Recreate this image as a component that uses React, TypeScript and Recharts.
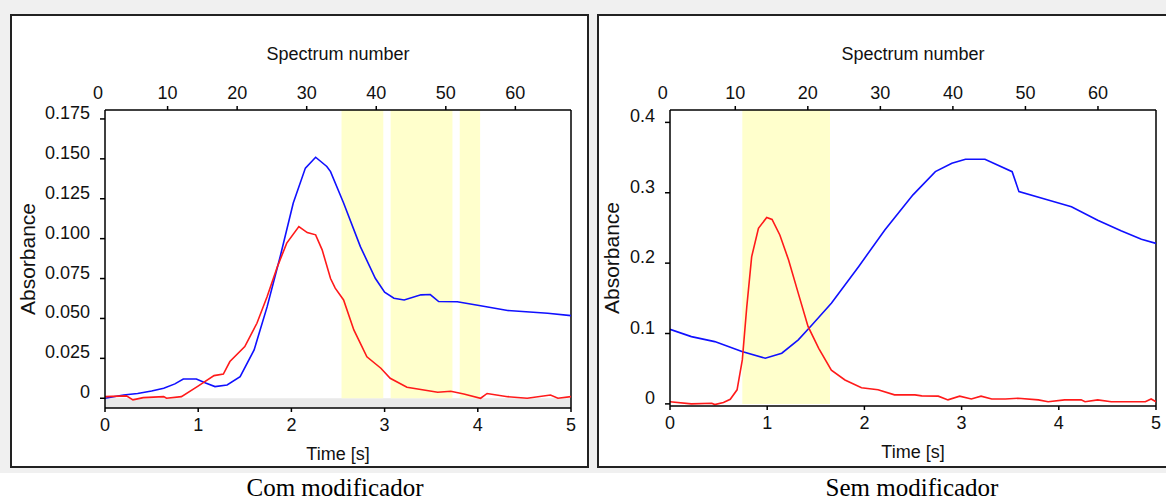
import { LineChart, Line, XAxis, YAxis, ReferenceArea, ReferenceLine } from "recharts";

type Pt = [number, number];

const timeTicks = [0, 1, 2, 3, 4, 5];
const spectrumTicks = [0, 10, 20, 30, 40, 50, 60];
const spectrumRange: Pt = [1, 68];
const comAbsTicks = [0, 0.025, 0.05, 0.075, 0.1, 0.125, 0.15, 0.175];
const semAbsTicks = [0, 0.1, 0.2, 0.3, 0.4];

// selected spectra (yellow), in seconds
const comBands: Pt[] = [[2.538, 2.986], [3.065, 3.728], [3.806, 4.025]];
const semBands: Pt[] = [[0.744, 1.646]];

// "Com modificador" — [time s, absorbance]
const comBlue: Pt[] = [
  [0, 0.0], [0.2, 0.002], [0.35, 0.003], [0.5, 0.0045], [0.63, 0.0063], [0.75, 0.009],
  [0.84, 0.0121], [0.98, 0.0121], [1.08, 0.0095], [1.18, 0.0073], [1.31, 0.0083],
  [1.45, 0.0135], [1.6, 0.0303], [1.74, 0.0574], [1.88, 0.0888], [2.02, 0.1223],
  [2.15, 0.1442], [2.26, 0.151], [2.38, 0.1452], [2.42, 0.142], [2.56, 0.1223],
  [2.74, 0.095], [2.9, 0.0752], [3.0, 0.0665], [3.1, 0.0627], [3.21, 0.0616],
  [3.39, 0.0648], [3.49, 0.065], [3.58, 0.0606], [3.78, 0.0605], [4.03, 0.058],
  [4.32, 0.055], [4.75, 0.0533], [5, 0.0518],
];
const comRed: Pt[] = [
  [0, 0.001], [0.23, 0.0015], [0.3, -0.001], [0.41, 0.0004], [0.63, 0.001], [0.66, 0.0],
  [0.82, 0.001], [0.99, 0.0073], [1.17, 0.0142], [1.27, 0.0152], [1.34, 0.023],
  [1.5, 0.0324], [1.63, 0.047], [1.74, 0.0637], [1.85, 0.0825], [1.95, 0.0972],
  [2.08, 0.1076], [2.17, 0.1038], [2.26, 0.1024], [2.33, 0.093], [2.42, 0.075],
  [2.47, 0.069], [2.56, 0.0616], [2.67, 0.0428], [2.81, 0.026], [2.96, 0.0188],
  [3.06, 0.0125], [3.24, 0.0069], [3.57, 0.0038], [3.71, 0.0044], [3.85, 0.0027],
  [4.03, 0.0], [4.1, 0.003], [4.32, 0.001], [4.53, 0.0], [4.78, 0.002], [4.86, 0.0],
  [5, 0.001],
];

// "Sem modificador"
const semBlue: Pt[] = [
  [0, 0.106], [0.22, 0.0956], [0.46, 0.0885], [0.74, 0.0743], [0.98, 0.0649],
  [1.15, 0.072], [1.32, 0.091], [1.46, 0.112], [1.66, 0.143], [1.94, 0.195],
  [2.21, 0.247], [2.5, 0.297], [2.73, 0.33], [2.9, 0.342], [3.04, 0.3476],
  [3.24, 0.3476], [3.52, 0.33], [3.59, 0.3016], [3.89, 0.2898], [4.13, 0.28],
  [4.4, 0.261], [4.64, 0.246], [4.85, 0.234], [5, 0.228],
];
const semRed: Pt[] = [
  [0, 0.003], [0.22, 0.0], [0.43, 0.001], [0.46, -0.001], [0.55, 0.002], [0.62, 0.0066],
  [0.69, 0.02], [0.744, 0.0625], [0.79, 0.138], [0.84, 0.209], [0.91, 0.2495],
  [0.995, 0.265], [1.05, 0.262], [1.13, 0.24], [1.22, 0.2045], [1.32, 0.157],
  [1.42, 0.11], [1.53, 0.079], [1.66, 0.048], [1.8, 0.034], [1.97, 0.023],
  [2.14, 0.02], [2.31, 0.0128], [2.52, 0.0128], [2.59, 0.0114], [2.76, 0.011],
  [2.86, 0.0057], [2.98, 0.011], [3.1, 0.007], [3.2, 0.011], [3.31, 0.007],
  [3.45, 0.007], [3.58, 0.008], [3.79, 0.0057], [3.89, 0.003], [4.06, 0.0057],
  [4.23, 0.0057], [4.27, 0.003], [4.4, 0.0057], [4.54, 0.003], [4.75, 0.003],
  [4.89, 0.003], [4.95, 0.007], [5, 0.003],
];

const FONT = "'Liberation Sans', Arial, sans-serif";
const INK = "#111";
const rows = (pts: Pt[]) => pts.map(([t, a]) => ({ t, a }));
// invisible carrier so the top (spectrum) axis gets registered and drawn
const spectrumRows = spectrumRange.map((s) => ({ s, a: 0 }));

const TopTick = (props: any) => {
  const { x, y, payload } = props;
  return (
    <g>
      <text x={x} y={y} textAnchor="middle" fontSize={18} fontFamily={FONT} fill={INK}>
        {payload.value}
      </text>
      {payload.value > 0 && <line x1={x} x2={x} y1={y + 7} y2={y + 11} stroke="#000" strokeWidth={1.5} />}
    </g>
  );
};

function Panel({
  left, width, yWidth, marginLeft, marginRight, marginBottom, yDomain, yTicks, yFmt,
  blue, red, bands, greyStrip, labelOffset,
}: {
  left: number; width: number; yWidth: number; marginLeft: number; marginRight: number;
  marginBottom: number; yDomain: [number, number]; yTicks: number[];
  yFmt: (v: number) => string; blue: Pt[]; red: Pt[]; bands: Pt[]; greyStrip: boolean;
  labelOffset: number;
}) {
  const YTick = (props: any) => (
    <text x={props.x} y={props.y - 6} textAnchor="end" dominantBaseline="central"
      fontSize={18} fontFamily={FONT} fill={INK}>
      {yFmt(props.payload.value)}
    </text>
  );
  return (
    <div style={{ position: "absolute", left, top: 0 }}>
      <LineChart width={width} height={470}
        margin={{ top: 20, right: marginRight, bottom: marginBottom, left: marginLeft }}>
        <XAxis xAxisId="s" dataKey="s" orientation="top" type="number" domain={spectrumRange} allowDataOverflow
          ticks={spectrumTicks} interval={0} height={90} tickLine={false} tickSize={4} tickMargin={7}
          tick={TopTick} axisLine={{ stroke: "#000", strokeWidth: 1.5 }}
          label={{ value: "Spectrum number", position: "insideTop", offset: 27, fontSize: 18, fontFamily: FONT, fill: INK }} />
        <XAxis xAxisId="t" dataKey="t" type="number" domain={[0, 5]} allowDataOverflow
          ticks={timeTicks} interval={0} height={56} tickSize={4} tickMargin={6}
          tick={{ fontSize: 18, fontFamily: FONT, fill: INK }}
          tickLine={{ stroke: "#000", strokeWidth: 1.5 }} axisLine={{ stroke: "#000", strokeWidth: 1.5 }}
          label={{ value: "Time [s]", position: "insideBottom", offset: 4, fontSize: 18, fontFamily: FONT, fill: INK }} />
        <YAxis type="number" domain={yDomain} allowDataOverflow ticks={yTicks} interval={0}
          width={yWidth} tickSize={5} tickMargin={10} tick={YTick}
          tickLine={{ stroke: "#000", strokeWidth: 1.5 }} axisLine={{ stroke: "#000", strokeWidth: 1.5 }}
          label={{ value: "Absorbance", angle: -90, position: "insideLeft", offset: labelOffset, fontSize: 21, fontFamily: FONT, fill: INK, style: { textAnchor: "middle" } }} />
        {greyStrip && (
          <ReferenceArea xAxisId="t" x1={0} x2={5} y1={yDomain[0]} y2={0} fill="#e9e9e9" fillOpacity={1} stroke="none" />
        )}
        {bands.map(([a, b], i) => (
          <ReferenceArea key={i} xAxisId="t" x1={a} x2={b} y1={0} y2={yDomain[1]} fill="#ffffcc" fillOpacity={1} stroke="none" />
        ))}
        <ReferenceLine xAxisId="t" x={5} stroke="#000" strokeWidth={1.5} />
        <Line xAxisId="s" data={spectrumRows} dataKey="a" stroke="none" strokeWidth={0}
          dot={false} activeDot={false} isAnimationActive={false} />
        <Line xAxisId="t" data={rows(blue)} dataKey="a" type="linear" stroke="#1010ff" strokeWidth={1.6}
          dot={false} isAnimationActive={false} />
        <Line xAxisId="t" data={rows(red)} dataKey="a" type="linear" stroke="#ff1a1a" strokeWidth={1.6}
          dot={false} isAnimationActive={false} />
      </LineChart>
    </div>
  );
}

export default function App() {
  return (
    <div style={{ position: "absolute", left: 0, top: 0, width: 1166, height: 501, background: "#fff", overflow: "hidden" }}>
      <svg width={1166} height={501} style={{ position: "absolute", left: 0, top: 0 }}>
        <rect x={0} y={0} width={1166} height={473} fill="#f0f0f0" />
        <rect x={11} y={15} width={577} height={452} fill="#fff" stroke="#222" strokeWidth={2} />
        <rect x={598} y={15} width={580} height={452} fill="#fff" stroke="#222" strokeWidth={2} />
        <text x={335} y={496} textAnchor="middle" fontSize={25} fontFamily="'Liberation Serif', 'Times New Roman', serif" fill="#000">
          Com modificador
        </text>
        <text x={912} y={496} textAnchor="middle" fontSize={25} fontFamily="'Liberation Serif', 'Times New Roman', serif" fill="#000">
          Sem modificador
        </text>
      </svg>
      <Panel left={0} width={590} yWidth={95} marginLeft={10} marginRight={19} marginBottom={6}
        yDomain={[-0.0061, 0.1806]} yTicks={comAbsTicks}
        yFmt={(v) => (v === 0 ? "0" : v.toFixed(3))}
        blue={comBlue} red={comRed} bands={comBands} greyStrip labelOffset={18} />
      <Panel left={590} width={576} yWidth={70} marginLeft={10} marginRight={10} marginBottom={8}
        yDomain={[-0.003, 0.4176]} yTicks={semAbsTicks}
        yFmt={(v) => (v === 0 ? "0" : String(v))}
        blue={semBlue} red={semRed} bands={semBands} greyStrip={false} labelOffset={12} />
    </div>
  );
}
